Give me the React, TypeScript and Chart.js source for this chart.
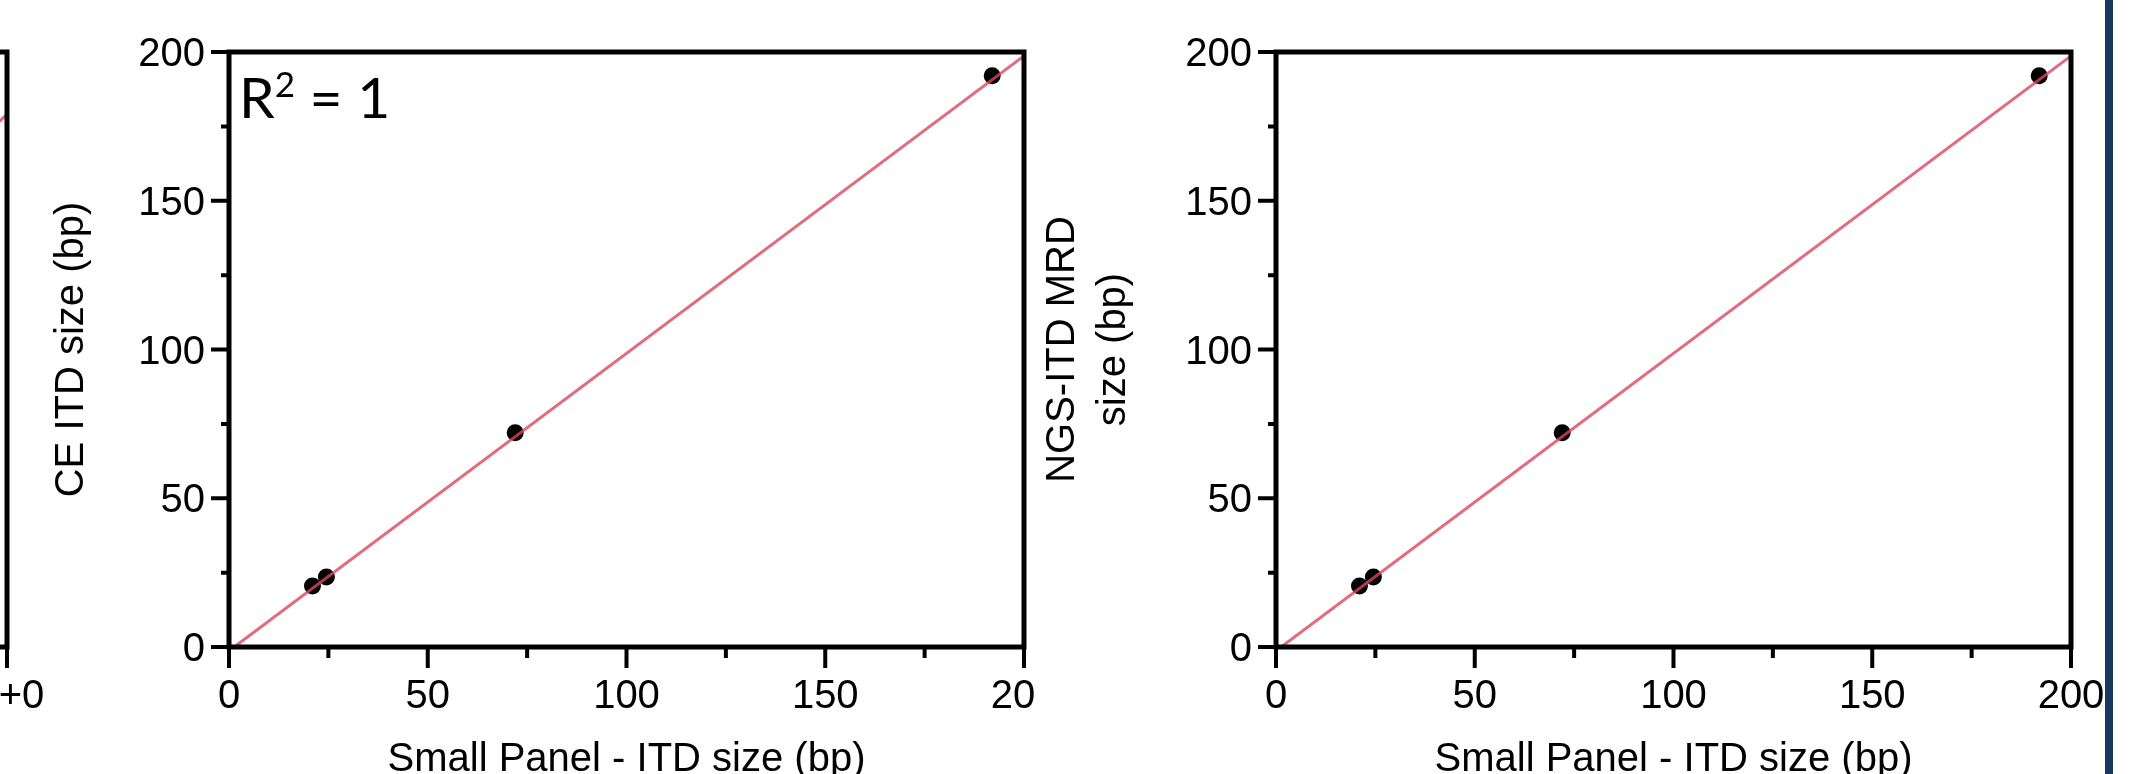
import React, { useEffect, useRef } from "react";
import { Chart, registerables } from "chart.js";

Chart.register(...registerables);

// ---------------- data ----------------
const smallPanelItdSize = [21, 24.5, 72, 192];
const ceItdSize = [20.5, 23.5, 72, 192];
const ngsItdMrdSize = [20.5, 23.5, 72, 192];

const fitLineX = [1.3, 200];
const ceFitLineY = [0, 198.7];
const ngsFitLineY = [0, 198.7];

const sizeTicks = [0, 25, 50, 75, 100, 125, 150, 175, 200];
const sizeTickLabels = ["0", "", "50", "", "100", "", "150", "", "200"];

// left panel (only its right edge is visible)
const leftFitLineX = [0, 1];
const leftFitLineY = [0, 179];
const leftXTicks = [0, 0.25, 0.5, 0.75, 1];
const leftXTickLabels = ["0", "", "5E-1", "", "1E+0"];

const xTitleText = "Small Panel - ITD size (bp)";
const ceTitleText = "CE ITD size (bp)";
const ngsTitleText = ["NGS-ITD MRD", "size (bp)"];

const FONT = "'Liberation Sans', Arial, sans-serif";
Chart.defaults.font.family = FONT;
Chart.defaults.color = "#000";

const framePlugin = {
  id: "prismFrame",
  afterDatasetsDraw(chart: any) {
    const { ctx, chartArea: a } = chart;
    const xs = chart.scales.x;
    const ys = chart.scales.y;
    ctx.save();
    ctx.strokeStyle = "#000";
    ctx.lineWidth = 5;
    ctx.lineJoin = "miter";
    ctx.lineCap = "butt";
    ctx.beginPath();
    ctx.moveTo(a.left, a.bottom);
    ctx.lineTo(a.left, a.top);
    ctx.lineTo(a.right, a.top);
    ctx.lineTo(a.right, a.bottom);
    ctx.closePath();
    ctx.stroke();
    ctx.beginPath();
    xs.ticks.forEach((t: any) => {
      const px = xs.getPixelForValue(t.value);
      const len = t.label ? 21 : 11;
      ctx.moveTo(px, a.bottom);
      ctx.lineTo(px, a.bottom + len);
    });
    ys.ticks.forEach((t: any) => {
      const py = ys.getPixelForValue(t.value);
      const len = t.label ? 18 : 8;
      ctx.moveTo(a.left, py);
      ctx.lineTo(a.left - len, py);
    });
    ctx.lineWidth = 4;
    ctx.stroke();
    ctx.restore();
  },
};

type PanelSpec = {
  xs: number[];
  ys: number[];
  lineX: number[];
  lineY: number[];
  xMax: number;
  xTicks: number[];
  xTickLabels: string[];
  xLabelOffset: number;
  xTitle: string | null;
  yTitle: string | string[] | null;
  yTitlePad: number;
  yTitleLineHeight: number;
  yScaleWidth: number;
  padRight: number;
};

function buildConfig(p: PanelSpec): any {
  return {
    type: "scatter",
    data: {
      datasets: [
        {
          type: "line",
          data: p.lineX.map((x, i) => ({ x, y: p.lineY[i] })),
          borderColor: "rgba(216,72,94,0.8)",
          borderWidth: 3,
          pointRadius: 0,
          fill: false,
          order: 0,
        },
        {
          type: "scatter",
          data: p.xs.map((x, i) => ({ x, y: p.ys[i] })),
          backgroundColor: "#000",
          pointRadius: 8.5,
          pointBorderWidth: 0,
          order: 1,
        },
      ],
    },
    options: {
      animation: false,
      responsive: false,
      devicePixelRatio: 1,
      events: [],
      layout: { padding: { left: 0, top: 52, right: p.padRight, bottom: 0 } },
      plugins: { legend: { display: false }, tooltip: { enabled: false } },
      scales: {
        x: {
          type: "linear",
          min: 0,
          max: p.xMax,
          grid: { display: false, drawTicks: false },
          border: { display: false },
          afterBuildTicks: (s: any) => {
            s.ticks = p.xTicks.map((v) => ({ value: v }));
          },
          ticks: {
            callback: (_v: any, i: number) => p.xTickLabels[i],
            padding: 26,
            labelOffset: p.xLabelOffset,
            font: { size: 40 },
            color: "#000",
            maxRotation: 0,
            minRotation: 0,
            autoSkip: false,
          },
          title: {
            display: !!p.xTitle,
            text: p.xTitle || "",
            font: { size: 40 },
            color: "#000",
            padding: { top: 0, bottom: 16 },
          },
          afterFit: (s: any) => {
            s.height = 153;
            s.paddingLeft = 0;
            s.paddingRight = 0;
          },
        },
        y: {
          type: "linear",
          min: 0,
          max: 200,
          grid: { display: false, drawTicks: false },
          border: { display: false },
          afterBuildTicks: (s: any) => {
            s.ticks = sizeTicks.map((v) => ({ value: v }));
          },
          ticks: {
            callback: (_v: any, i: number) => sizeTickLabels[i],
            padding: 24,
            labelOffset: 3,
            font: { size: 40 },
            color: "#000",
            autoSkip: false,
          },
          title: {
            display: !!p.yTitle,
            text: p.yTitle || "",
            font: { size: 40, lineHeight: p.yTitleLineHeight },
            color: "#000",
            padding: { top: p.yTitlePad, bottom: 0 },
          },
          afterFit: (s: any) => {
            s.width = p.yScaleWidth;
            s.paddingTop = 0;
            s.paddingBottom = 0;
          },
        },
      },
    },
    plugins: [framePlugin],
  };
}

function Panel({ left, width, height, spec }: { left: number; width: number; height: number; spec: PanelSpec }) {
  const ref = useRef<HTMLCanvasElement>(null);
  useEffect(() => {
    const chart = new Chart(ref.current as HTMLCanvasElement, buildConfig(spec));
    return () => chart.destroy();
  }, []);
  return (
    <canvas
      ref={ref}
      width={width}
      height={height}
      style={{ position: "absolute", left, top: 0, width, height }}
    />
  );
}

const leftSpec: PanelSpec = {
  xs: [],
  ys: [],
  lineX: leftFitLineX,
  lineY: leftFitLineY,
  xMax: 1,
  xTicks: leftXTicks,
  xTickLabels: leftXTickLabels,
  xLabelOffset: -10,
  xTitle: null,
  yTitle: null,
  yTitlePad: 0,
  yTitleLineHeight: 1.2,
  yScaleWidth: 229,
  padRight: 53,
};

const ceSpec: PanelSpec = {
  xs: smallPanelItdSize,
  ys: ceItdSize,
  lineX: fitLineX,
  lineY: ceFitLineY,
  xMax: 200,
  xTicks: sizeTicks,
  xTickLabels: sizeTickLabels,
  xLabelOffset: 0,
  xTitle: xTitleText,
  yTitle: ceTitleText,
  yTitlePad: 48,
  yTitleLineHeight: 1.2,
  yScaleWidth: 229,
  padRight: 12,
};

const ngsSpec: PanelSpec = {
  xs: smallPanelItdSize,
  ys: ngsItdMrdSize,
  lineX: fitLineX,
  lineY: ngsFitLineY,
  xMax: 200,
  xTicks: sizeTicks,
  xTickLabels: sizeTickLabels,
  xLabelOffset: 0,
  xTitle: xTitleText,
  yTitle: ngsTitleText,
  yTitlePad: 7,
  yTitleLineHeight: 1.275,
  yScaleWidth: 246,
  padRight: 77,
};

export default function App() {
  return (
    <div
      style={{
        position: "relative",
        width: 2148,
        height: 774,
        overflow: "hidden",
        background: "#fff",
      }}
    >
      <style>{"body{margin:0;}"}</style>
      <Panel left={-800} width={860} height={800} spec={leftSpec} />
      <Panel left={0} width={1036} height={800} spec={ceSpec} />
      <Panel left={1030} width={1118} height={800} spec={ngsSpec} />
      <div
        style={{
          position: "absolute",
          left: 239,
          top: 68,
          fontFamily: "Lato, 'Open Sans', sans-serif",
          fontSize: 57,
          lineHeight: "57px",
          color: "#000",
          whiteSpace: "nowrap",
        }}
      >
        R<span style={{ fontSize: 35, position: "relative", top: -21 }}>2</span> = 1
      </div>
      <div
        style={{
          position: "absolute",
          left: 2105,
          top: 0,
          width: 8,
          height: 774,
          background: "#17375e",
        }}
      />
    </div>
  );
}
